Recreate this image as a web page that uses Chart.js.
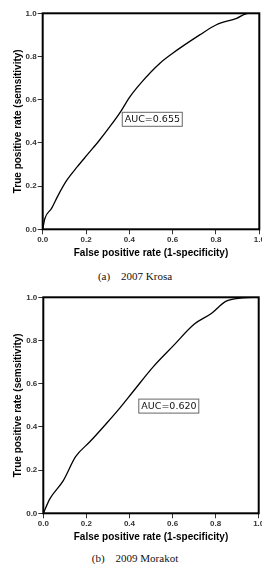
<!DOCTYPE html>
<html>
<head>
<meta charset="utf-8">
<script src="https://cdn.jsdelivr.net/npm/chart.js@4"></script>
<style>
  html, body { margin: 0; padding: 0; background: #fff; overflow: hidden; }
  body { width: 262px; height: 564px; position: relative; }
  .box { position: absolute; left: 0; width: 270px; height: 262px; }
  .caption {
    position: absolute; left: 0; width: 270px; text-align: center;
    font-family: "Liberation Serif", "Times New Roman", serif; font-size: 11px; color: #111;
    line-height: 12px;
  }
</style>
</head>
<body>
<div class="box" style="top:0px"><canvas id="krosaChart" width="270" height="262"></canvas></div>
<div class="caption" style="top:270px; left:0px">(a)&nbsp;&nbsp;&nbsp;&nbsp;2007 Krosa</div>
<div class="box" style="top:284px"><canvas id="morakotChart" width="270" height="262"></canvas></div>
<div class="caption" style="top:552px; left:0px">(b)&nbsp;&nbsp;&nbsp;&nbsp;2009 Morakot</div>
<script>
// ROC curve points
const krosaFpr = [0, 0.01, 0.041, 0.07, 0.11, 0.16, 0.21, 0.26, 0.31, 0.36, 0.40, 0.46, 0.54, 0.60, 0.725, 0.80, 0.895, 0.949, 1.0];
const krosaTpr = [0, 0.05, 0.097, 0.155, 0.225, 0.29, 0.35, 0.41, 0.475, 0.545, 0.61, 0.685, 0.768, 0.815, 0.9, 0.946, 0.977, 1.0, 1.0];
const morakotFpr = [0, 0.031, 0.092, 0.15, 0.216, 0.293, 0.354, 0.418, 0.51, 0.603, 0.70, 0.78, 0.847, 0.924, 0.97, 1.0];
const morakotTpr = [0, 0.068, 0.15, 0.262, 0.331, 0.416, 0.486, 0.565, 0.678, 0.775, 0.875, 0.925, 0.981, 0.997, 1.0, 1.0];
const tickValues = [0, 0.2, 0.4, 0.6, 0.8, 1.0];

const xTitle = "False positive rate (1-specificity)";
const yTitle = "True positive rate (semsitivity)";

// frame round the plot area plus the AUC label box
const framePlugin = {
  id: "frame",
  afterDraw(chart, args, opts) {
    const { ctx, chartArea, scales } = chart;
    ctx.save();
    ctx.strokeStyle = "#000";
    ctx.lineWidth = 2;
    ctx.strokeRect(chartArea.left, chartArea.top, chartArea.right - chartArea.left, chartArea.bottom - chartArea.top);

    const bx = scales.x.getPixelForValue(opts.at[0]);
    const by = scales.y.getPixelForValue(opts.at[1]);
    ctx.fillStyle = "#fff";
    ctx.fillRect(bx, by, 61, 14.5);
    ctx.lineWidth = 1;
    ctx.strokeStyle = "#666";
    ctx.strokeRect(bx + 0.5, by + 0.5, 60, 14);
    ctx.fillStyle = "#111";
    ctx.font = "9.5px 'DejaVu Sans'";
    ctx.textBaseline = "middle";
    ctx.fillText(opts.text, bx + 3, by + 8);
    ctx.restore();
  },
};

function makeScale(title, size) {
  return {
    type: "linear",
    min: 0,
    max: 1,
    afterBuildTicks: (scale) => {
      scale.ticks = tickValues.map((v) => ({ value: v }));
    },
    afterFit: (scale) => {
      if (scale.isHorizontal()) scale.height = size;
      else scale.width = size;
    },
    border: { display: false },
    grid: { drawOnChartArea: false, tickLength: 5, color: "#333", lineWidth: 1 },
    ticks: {
      padding: 1,
      maxRotation: 0,
      color: "#333",
      font: { family: "Liberation Sans", size: 8, weight: "bold" },
      callback: (v) => Number(v).toFixed(1),
    },
    title: {
      display: true,
      text: title,
      color: "#000",
      font: { family: "Liberation Sans", size: 10, weight: "bold", lineHeight: 1.2 },
      padding: { top: 12, bottom: 3 },
    },
  };
}

function drawRoc(id, fpr, tpr, label, at, left, right) {
  const ctx = document.getElementById(id).getContext("2d");
  new Chart(ctx, {
    type: "line",
    data: {
      datasets: [
        {
          data: fpr.map((x, i) => ({ x: x, y: tpr[i] })),
          borderColor: "#000",
          borderWidth: 1.3,
          pointRadius: 0,
          cubicInterpolationMode: "monotone",
          fill: false,
        },
      ],
    },
    options: {
      responsive: false,
      animation: false,
      events: [],
      layout: { padding: { top: 13.3, right: 270 - right, left: 0, bottom: 0 } },
      scales: {
        x: makeScale(xTitle, 32.7),
        y: makeScale(yTitle, left),
      },
      plugins: {
        legend: { display: false },
        tooltip: { enabled: false },
        frame: { text: label, at: at },
      },
    },
    plugins: [framePlugin],
  });
}

drawRoc("krosaChart", krosaFpr, krosaTpr, "AUC=0.655", [0.365, 0.544], 42.7, 259.3);
drawRoc("morakotChart", morakotFpr, morakotTpr, "AUC=0.620", [0.441, 0.531], 43.3, 258.7);
</script>
</body>
</html>
